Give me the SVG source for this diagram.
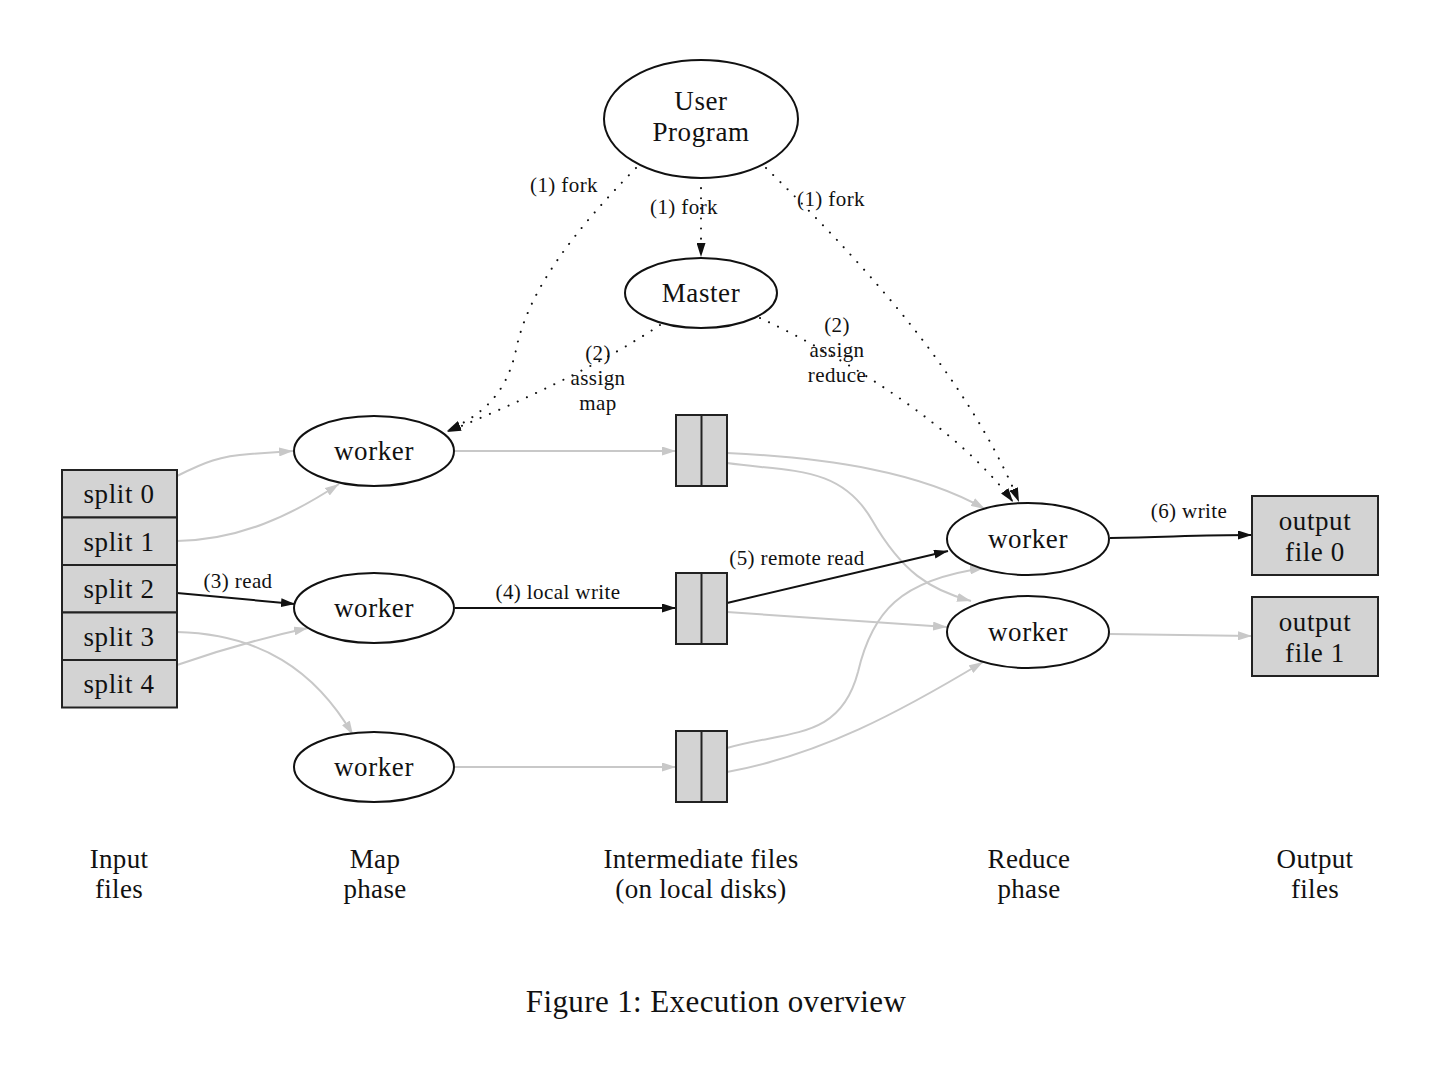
<svg xmlns="http://www.w3.org/2000/svg" width="1440" height="1080" viewBox="0 0 1440 1080">
<style>
text{font-family:"Liberation Serif","Times New Roman",serif;fill:#111;text-anchor:middle}
.n{font-size:27px;letter-spacing:0.6px}
.e{font-size:21px;letter-spacing:0.4px}
.b{font-size:27px;letter-spacing:0.3px}
.cap{font-size:31px;letter-spacing:0.4px}
.node{fill:#fff;stroke:#111;stroke-width:2}
.box{fill:#d3d3d3;stroke:#222;stroke-width:2}
.g{fill:none;stroke:#c8c8c8;stroke-width:2;marker-end:url(#ag)}
.k{fill:none;stroke:#111;stroke-width:2;marker-end:url(#ak)}
.d{fill:none;stroke:#111;stroke-width:2;stroke-dasharray:0.1 10;stroke-linecap:round;marker-end:url(#ak)}
</style>
<defs>
<marker id="ak" viewBox="0 0 14 9" refX="14" refY="4.5" markerWidth="14" markerHeight="9" markerUnits="userSpaceOnUse" orient="auto">
<path d="M0,0 L14,4.5 L0,9 Z" fill="#111"/>
</marker>
<marker id="ag" viewBox="0 0 14 9" refX="14" refY="4.5" markerWidth="14" markerHeight="9" markerUnits="userSpaceOnUse" orient="auto">
<path d="M0,0 L14,4.5 L0,9 Z" fill="#c8c8c8"/>
</marker>
</defs>
<rect width="1440" height="1080" fill="#fff"/>

<g id="connectors">
<path class="d" d="M636,168 C575,230 528,290 516,350 C506,395 482,415 447,431"/>
<path class="d" d="M701,178 L701,257"/>
<path class="d" d="M766,168 C850,250 965,370 1019,502"/>
<path class="d" d="M660,325 C600,365 520,402 447,432"/>
<path class="d" d="M760,318 C850,360 960,430 1013,502"/>
<path class="g" d="M177,476 C205,462 220,456 250,454 L293,451"/>
<path class="g" d="M177,541 C240,540 292,515 339,484"/>
<path class="k" d="M177,593 L295,604"/>
<path class="g" d="M177,632 C260,634 315,670 353,735"/>
<path class="g" d="M177,665 C220,650 262,638 308,628"/>
<path class="g" d="M455,451 L676,451"/>
<path class="k" d="M455,608 L676,608"/>
<path class="g" d="M455,767 L676,767"/>
<path class="g" d="M727,453 C830,458 920,472 985,509"/>
<path class="g" d="M727,463 C790,472 840,465 872,520 C902,572 930,590 971,601"/>
<path class="k" d="M727,603 L948,551"/>
<path class="g" d="M727,612 L947,627"/>
<path class="g" d="M727,748 C790,730 840,740 858,672 C872,612 900,580 984,568"/>
<path class="g" d="M727,772 C820,755 900,712 983,662"/>
<path class="k" d="M1110,538 C1170,537 1200,535 1252,535"/>
<path class="g" d="M1110,634 L1252,636"/>
</g>

<g id="edge-labels">
<text class="e" x="564" y="192">(1) fork</text>
<text class="e" x="684" y="214">(1) fork</text>
<text class="e" x="831" y="206">(1) fork</text>
<text class="e" x="598" y="360">(2)</text>
<text class="e" x="598" y="385">assign</text>
<text class="e" x="598" y="410">map</text>
<text class="e" x="837" y="332">(2)</text>
<text class="e" x="837" y="357">assign</text>
<text class="e" x="837" y="382">reduce</text>
<text class="e" x="238" y="588">(3) read</text>
<text class="e" x="558" y="599">(4) local write</text>
<text class="e" x="797" y="565">(5) remote read</text>
<text class="e" x="1189" y="518">(6) write</text>
</g>

<g id="user-program">
<ellipse class="node" cx="701" cy="119" rx="97" ry="59"/>
<text class="n" x="701" y="110">User</text>
<text class="n" x="701" y="141">Program</text>
</g>
<g id="master">
<ellipse class="node" cx="701" cy="293" rx="76" ry="35"/>
<text class="n" x="701" y="302">Master</text>
</g>

<g id="splits">
<rect class="box" x="62" y="470" width="115" height="47.5"/>
<rect class="box" x="62" y="517.5" width="115" height="47.5"/>
<rect class="box" x="62" y="565" width="115" height="47.5"/>
<rect class="box" x="62" y="612.5" width="115" height="47.5"/>
<rect class="box" x="62" y="660" width="115" height="47.5"/>
<text class="n" x="119" y="503">split 0</text>
<text class="n" x="119" y="551">split 1</text>
<text class="n" x="119" y="598">split 2</text>
<text class="n" x="119" y="646">split 3</text>
<text class="n" x="119" y="693">split 4</text>
</g>

<g id="map-worker-1">
<ellipse class="node" cx="374" cy="451" rx="80" ry="35"/>
<text class="n" x="374" y="460">worker</text>
</g>
<g id="map-worker-2">
<ellipse class="node" cx="374" cy="608" rx="80" ry="35"/>
<text class="n" x="374" y="617">worker</text>
</g>
<g id="map-worker-3">
<ellipse class="node" cx="374" cy="767" rx="80" ry="35"/>
<text class="n" x="374" y="776">worker</text>
</g>

<g id="intermediate-1">
<rect class="box" x="676" y="415" width="51" height="71"/>
<line x1="701.5" y1="415" x2="701.5" y2="486" stroke="#222" stroke-width="2"/>
</g>
<g id="intermediate-2">
<rect class="box" x="676" y="573" width="51" height="71"/>
<line x1="701.5" y1="573" x2="701.5" y2="644" stroke="#222" stroke-width="2"/>
</g>
<g id="intermediate-3">
<rect class="box" x="676" y="731" width="51" height="71"/>
<line x1="701.5" y1="731" x2="701.5" y2="802" stroke="#222" stroke-width="2"/>
</g>

<g id="reduce-worker-1">
<ellipse class="node" cx="1028" cy="539" rx="81" ry="36"/>
<text class="n" x="1028" y="548">worker</text>
</g>
<g id="reduce-worker-2">
<ellipse class="node" cx="1028" cy="632" rx="81" ry="36"/>
<text class="n" x="1028" y="641">worker</text>
</g>

<g id="output-file-0">
<rect class="box" x="1252" y="496" width="126" height="79"/>
<text class="n" x="1315" y="530">output</text>
<text class="n" x="1315" y="561">file 0</text>
</g>
<g id="output-file-1">
<rect class="box" x="1252" y="597" width="126" height="79"/>
<text class="n" x="1315" y="631">output</text>
<text class="n" x="1315" y="662">file 1</text>
</g>

<g id="phase-labels">
<text class="b" x="119" y="868">Input</text>
<text class="b" x="119" y="898">files</text>
<text class="b" x="375" y="868">Map</text>
<text class="b" x="375" y="898">phase</text>
<text class="b" x="701" y="868">Intermediate files</text>
<text class="b" x="701" y="898">(on local disks)</text>
<text class="b" x="1029" y="868">Reduce</text>
<text class="b" x="1029" y="898">phase</text>
<text class="b" x="1315" y="868">Output</text>
<text class="b" x="1315" y="898">files</text>
</g>
<text class="cap" x="716" y="1012">Figure 1: Execution overview</text>
</svg>
